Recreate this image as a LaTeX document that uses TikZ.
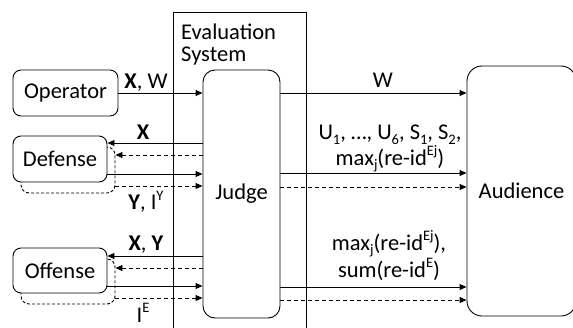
\documentclass[tikz,border=0pt]{standalone}
\usepackage{fontspec}
\setmainfont{Carlito}
\usetikzlibrary{arrows.meta,calc}
\newcommand\upsc[1]{\raisebox{0.42em}{\fontsize{14.5}{14.5}\selectfont #1}}
\newcommand\dnsc[1]{\raisebox{-0.2em}{\fontsize{14.5}{14.5}\selectfont #1}}
\begin{document}
\begin{tikzpicture}[x=1pt,y=-1pt, font=\fontsize{22.5}{24}\selectfont,
  box/.style={draw, line width=0.9pt, rounded corners=8pt, fill=white, inner sep=0pt},
  shadowbox/.style={draw, line width=0.9pt, rounded corners=8pt, dash pattern=on 3pt off 2pt, inner sep=0pt},
  arr/.style={-{Triangle[length=7pt,width=6pt]}, line width=0.9pt},
  darr/.style={arr, dash pattern=on 4pt off 3pt},
  lbl/.style={inner sep=0pt}]
\useasboundingbox (0,0) rectangle (573,327);
\node[draw, line width=0.9pt, minimum width=133pt, minimum height=328pt, inner sep=0pt] (evalsys) at (239.5,176) {};
\node[lbl, align=left, anchor=base west, font=\fontsize{22.5}{21.5}\selectfont] (evallbl) at (181,61) {Evaluation\\System};
\node[box, minimum width=105pt, minimum height=46pt] (op) at (65.5,93) {Operator};
\node[shadowbox, minimum width=94pt, minimum height=46pt] (defS) at (68,170) {};
\node[box, minimum width=94pt, minimum height=46pt] (def) at (60,159) {Defense};
\node[shadowbox, minimum width=94pt, minimum height=45pt] (offS) at (68,281.5) {};
\node[box, minimum width=94pt, minimum height=45pt] (off) at (60,270.5) {Offense};
\node[box, rounded corners=12pt, minimum width=77pt, minimum height=248pt] (judge) at (241.5,194) {Judge};
\node[box, rounded corners=15pt, minimum width=109pt, minimum height=250pt] (aud) at (521.5,191) {Audience};
% operator
\draw[arr] (op.east) -- (judge.west |- op.east);
\draw[arr] (judge.east |- op.east) -- (aud.west |- op.east);
% defense
\draw[arr] (judge.west |- 0,143) -- (def.east |- 0,143);
\draw[darr] (judge.west |- 0,155) -- (defS.east |- 0,155);
\draw[arr] (def.east |- 0,174) -- (judge.west |- 0,174);
\draw[darr] (defS.east |- 0,186) -- (judge.west |- 0,186);
% offense
\draw[arr] (judge.west |- 0,256) -- (off.east |- 0,256);
\draw[darr] (judge.west |- 0,268) -- (offS.east |- 0,268);
\draw[arr] (off.east |- 0,286) -- (judge.west |- 0,286);
\draw[darr] (offS.east |- 0,298) -- (judge.west |- 0,298);
% audience
\draw[arr] (judge.east |- 0,173) -- (aud.west |- 0,173);
\draw[darr] (judge.east |- 0,187) -- (aud.west |- 0,187);
\draw[arr] (judge.east |- 0,287) -- (aud.west |- 0,287);
\draw[darr] (judge.east |- 0,300) -- (aud.west |- 0,300);
% labels
\node[lbl, anchor=base] (lxw) at (146,88) {\textbf{X}, W};
\node[lbl, anchor=base] (lx) at (143,139) {\textbf{X}};
\node[lbl, anchor=base] (lyi) at (146,209.5) {\textbf{Y}, I\upsc{Y}};
\node[lbl, anchor=base] (lxy) at (146,250) {\textbf{X}, \textbf{Y}};
\node[lbl, anchor=base] (lie) at (143,322) {I\upsc{E}};
\node[lbl, anchor=base] (lw) at (383,87) {W};
\node[lbl, align=center, anchor=base] (lu) at (390,165) {U\dnsc{1}, …, U\dnsc{6}, S\dnsc{1}, S\dnsc{2},\\max\dnsc{j}(re-id\upsc{Ej})};
\node[lbl, align=center, anchor=base] (lm) at (389,277) {max\dnsc{j}(re-id\upsc{Ej}),\\sum(re-id\upsc{E})};
\end{tikzpicture}
\end{document}
